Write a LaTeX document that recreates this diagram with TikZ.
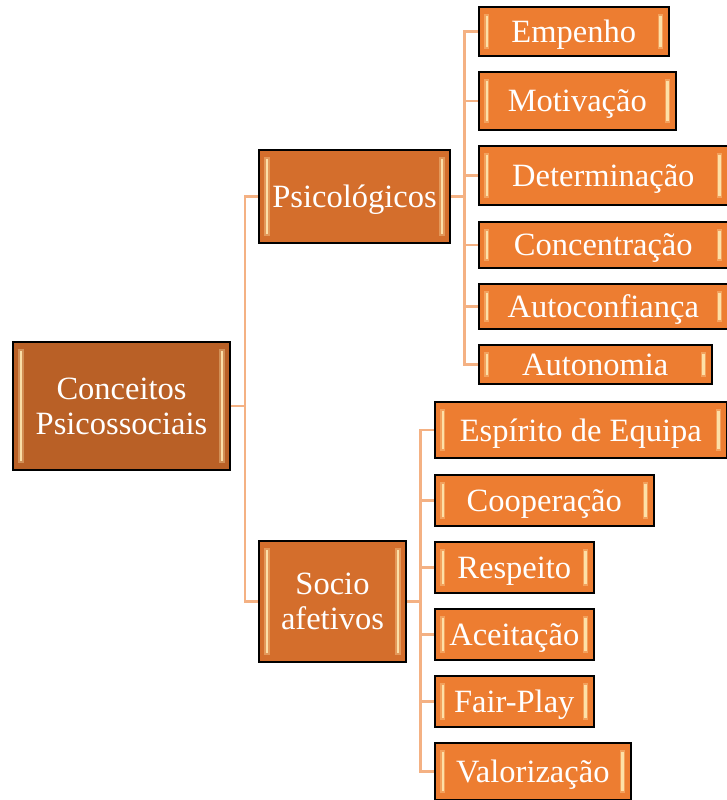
\documentclass[tikz,border=0pt]{standalone}
\usepackage{fontspec}
\setmainfont{Liberation Serif}
\usetikzlibrary{positioning}

\definecolor{rootfill}{HTML}{B96026}
\definecolor{midfill}{HTML}{D46E2C}
\definecolor{leaffill}{HTML}{ED7D31}
\definecolor{linkline}{HTML}{F4B183}
\definecolor{bevellight}{HTML}{FFE7B0}

\tikzset{
  bevel/.style={fill=bevellight, opacity=#1},
  box/.style={draw=black, line width=0.9pt, text=white, align=center,
    font=\fontsize{18.5}{20}\selectfont, inner sep=0pt, text depth=0pt, fill=#1,
    path picture={
      \fill[bevel=0.35]
        ([xshift=3pt,yshift=4pt]path picture bounding box.south west)
        rectangle ([xshift=6pt,yshift=-4pt]path picture bounding box.north west);
      \fill[bevel=0.9]
        ([xshift=4pt,yshift=5pt]path picture bounding box.south west)
        rectangle ([xshift=5.3pt,yshift=-5pt]path picture bounding box.north west);
      \fill[bevel=0.35]
        ([xshift=-3pt,yshift=4pt]path picture bounding box.south east)
        rectangle ([xshift=-6pt,yshift=-4pt]path picture bounding box.north east);
      \fill[bevel=0.9]
        ([xshift=-4pt,yshift=5pt]path picture bounding box.south east)
        rectangle ([xshift=-5.3pt,yshift=-5pt]path picture bounding box.north east);
    }},
  rootbox/.style={box=rootfill},
  midbox/.style={box=midfill},
  leafbox/.style={box=leaffill, anchor=west},
  link/.style={draw=linkline, line width=1.7pt},
}

\begin{document}
\begin{tikzpicture}[x=0.02cm, y=-0.02cm]
  \useasboundingbox (0,0) rectangle (726,800);

  \coordinate (rj) at (245,406);
  \coordinate (pj) at (464,196.5);
  \coordinate (sj) at (420,601.5);

  % main concept
  \node[rootbox, minimum width=4.34cm, minimum height=2.56cm] (root) at (121.5,406)
    {Conceitos\\Psicossociais};

  % two groups
  \node[midbox, minimum width=3.82cm, minimum height=1.86cm] (psico) at (354.5,196.5) {Psicológicos};
  \node[midbox, minimum width=2.94cm, minimum height=2.42cm] (socio) at (332.5,601.5) {Socio\\afetivos};

  % psicologicos
  \node[leafbox, minimum width=3.80cm, minimum height=0.98cm] (empenho) at (478,31.5) {Empenho};
  \node[leafbox, minimum width=3.94cm, minimum height=1.16cm] (motivacao) at (478,101) {Motivação};
  \node[leafbox, minimum width=4.98cm, minimum height=1.18cm] (determinacao) at (478,175.5) {Determinação};
  \node[leafbox, minimum width=4.98cm, minimum height=0.92cm] (concentracao) at (478,245) {Concentração};
  \node[leafbox, minimum width=4.98cm, minimum height=0.90cm] (autoconfianca) at (478,306.5) {Autoconfiança};
  \node[leafbox, minimum width=4.66cm, minimum height=0.78cm] (autonomia) at (478,364.5) {Autonomia};

  % socio afetivos
  \node[leafbox, minimum width=5.84cm, minimum height=1.12cm] (espirito) at (434,430) {Espírito de Equipa};
  \node[leafbox, minimum width=4.38cm, minimum height=1.02cm] (cooperacao) at (434,500.5) {Cooperação};
  \node[leafbox, minimum width=3.18cm, minimum height=1.02cm] (respeito) at (434,567.5) {Respeito};
  \node[leafbox, minimum width=3.18cm, minimum height=1.02cm] (aceitacao) at (434,634.5) {Aceitação};
  \node[leafbox, minimum width=3.18cm, minimum height=1.02cm] (fairplay) at (434,701.5) {Fair-Play};
  \node[leafbox, minimum width=3.92cm, minimum height=1.14cm] (valorizacao) at (434,771.5) {Valorização};

  % connectors
  \draw[link] (root.east) -- (rj);
  \draw[link] (rj) |- (psico.west);
  \draw[link] (rj) |- (socio.west);
  \draw[link] (psico.east) -- (pj);
  \foreach \n in {empenho,motivacao,determinacao,concentracao,autoconfianca,autonomia}
    \draw[link] (pj) |- (\n.west);
  \draw[link] (socio.east) -- (sj);
  \foreach \n in {espirito,cooperacao,respeito,aceitacao,fairplay,valorizacao}
    \draw[link] (sj) |- (\n.west);
\end{tikzpicture}
\end{document}
